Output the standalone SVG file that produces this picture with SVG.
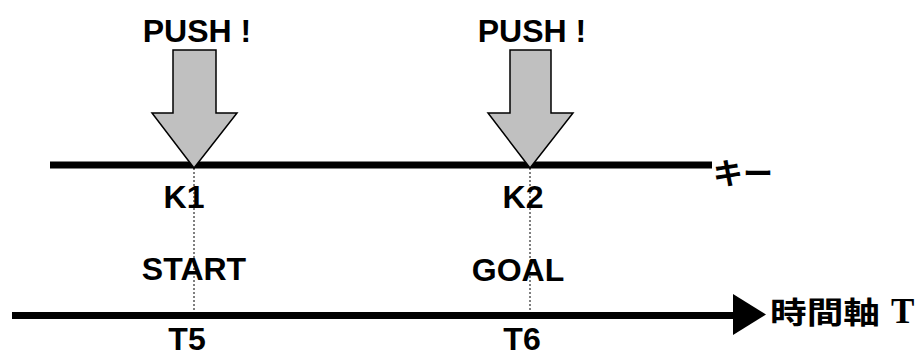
<svg xmlns="http://www.w3.org/2000/svg" width="917" height="354" viewBox="0 0 917 354">
  <style>
    .lbl { font-family: "Liberation Sans", Arial, sans-serif; font-weight: bold; font-size: 32px; fill: #000; text-anchor: middle; }
    .jp { font-family: "Noto Sans CJK JP", sans-serif; font-weight: bold; font-size: 30px; fill: #000; }
    .serif { font-family: "Liberation Serif", "Times New Roman", serif; font-weight: bold; font-size: 35px; }
    .axis { stroke: #000; stroke-width: 7; fill: none; }
    .guide { stroke: #000; stroke-width: 1; stroke-dasharray: 2 2; fill: none; }
    .push-arrow { fill: #c0c0c0; stroke: #000; stroke-width: 1.5; stroke-linejoin: miter; }
  </style>

  <!-- axes and guides -->
  <g id="connectors">
    <line class="axis" x1="50" y1="165" x2="712" y2="165"/>
    <line class="axis" x1="12" y1="315.5" x2="736" y2="315.5"/>
    <polygon points="733,294 766,314.5 733,335" fill="#000"/>
    <line class="guide" x1="194" y1="168" x2="194" y2="312"/>
    <line class="guide" x1="530" y1="168" x2="530" y2="312"/>
  </g>

  <g id="push1">
    <polygon class="push-arrow" points="173,50 216,50 216,113 237,113 194,168 152,113 173,113"/>
    <text class="lbl" x="197" y="42">PUSH !</text>
  </g>

  <g id="push2">
    <polygon class="push-arrow" points="510,50 551,50 551,113 573,113 530,168 488,113 510,113"/>
    <text class="lbl" x="532" y="42">PUSH !</text>
  </g>

  <g id="key-label">
    <text class="jp" x="713" y="184">キー</text>
  </g>

  <g id="k1">
    <text class="lbl" x="184" y="208">K1</text>
  </g>
  <g id="k2">
    <text class="lbl" x="523" y="208">K2</text>
  </g>

  <g id="start">
    <text class="lbl" x="194" y="280">START</text>
  </g>
  <g id="goal">
    <text class="lbl" x="518" y="281">GOAL</text>
  </g>

  <g id="t5">
    <text class="lbl" x="187" y="350">T5</text>
  </g>
  <g id="t6">
    <text class="lbl" x="522" y="350">T6</text>
  </g>

  <g id="time-axis-label">
    <text class="jp" x="770" y="323" textLength="110" lengthAdjust="spacingAndGlyphs">時間軸</text>
    <text class="jp serif" x="891" y="323">T</text>
  </g>
</svg>
